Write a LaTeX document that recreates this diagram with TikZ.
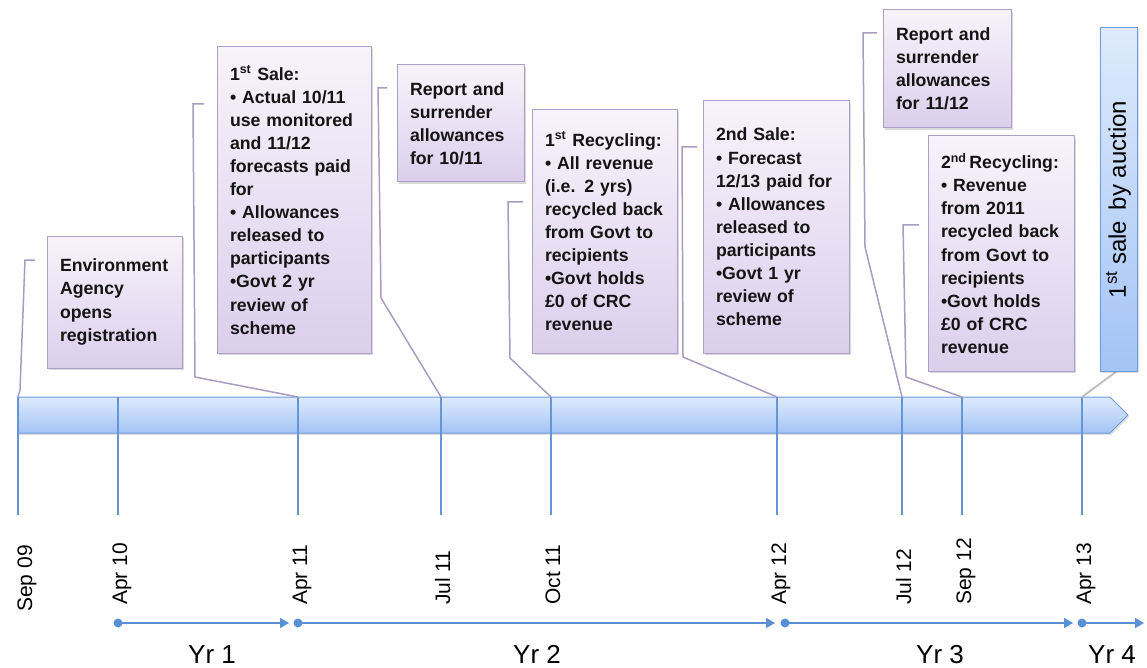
\documentclass[tikz,border=0pt]{standalone}
\usepackage{fontspec}
\setmainfont{Liberation Sans}
\usetikzlibrary{arrows.meta,shadows}
\hyphenpenalty=10000
\exhyphenpenalty=10000
\definecolor{boxtop}{RGB}{247,243,251}
\definecolor{boxbot}{RGB}{219,207,236}
\definecolor{boxborder}{RGB}{172,160,200}
\definecolor{conncol}{RGB}{168,156,192}
\definecolor{bartop}{RGB}{222,234,252}
\definecolor{barbot}{RGB}{163,196,245}
\definecolor{barborder}{RGB}{108,154,218}
\definecolor{tickcol}{RGB}{100,150,215}
\definecolor{yrcol}{RGB}{88,143,215}
\definecolor{auccon}{RGB}{192,192,192}
\begin{document}
\begin{tikzpicture}[x=1pt,y=-1pt,
  evbox/.style={draw=boxborder, line width=1pt, top color=boxtop, bottom color=boxbot,
    drop shadow={shadow xshift=1.5pt, shadow yshift=-2pt, opacity=0.3},
    inner xsep=13pt, inner ysep=0pt, align=left, text=black!92,
    font=\bfseries\fontsize{17.7pt}{23.1pt}\selectfont},
  conn/.style={draw=conncol, line width=1.5pt},
  tick/.style={draw=tickcol, line width=1.2pt},
  datelbl/.style={rotate=90, anchor=base west, inner sep=0pt, font=\fontsize{21pt}{24pt}\selectfont},
  yrlbl/.style={anchor=base, inner sep=0pt, font=\fontsize{26pt}{30pt}\selectfont},
  yrarrow/.style={draw=yrcol, line width=1.5pt, -{Triangle[length=9pt,width=10pt]}},
  yrdot/.style={circle, fill=yrcol, inner sep=0pt, minimum size=9pt}
]
\useasboundingbox (0,0) rectangle (1147,668);

% timeline bar
\path[draw=barborder, line width=1pt, top color=bartop, bottom color=barbot,
  drop shadow={shadow xshift=1pt, shadow yshift=-2pt, opacity=0.25}]
  (18,397) -- (1110,397) -- (1128,415) -- (1110,433) -- (18,433) -- cycle;

% ticks
\foreach \n/\x in {a/18,b/118,c/298,d/441,e/551,f/777,g/902,h/962,i/1082}{
  \coordinate (t\n) at (\x,397);
  \coordinate (t\n b) at (\x,515);
  \draw[tick] (t\n) -- (t\n b);
}

% date labels
\node[datelbl] (la) at (32,612) {Sep 09};
\node[datelbl] (lb) at (127,605) {Apr 10};
\node[datelbl] (lc) at (307,605) {Apr 11};
\node[datelbl] (ld) at (450,605) {Jul 11};
\node[datelbl] (le) at (560,605) {Oct 11};
\node[datelbl] (lf) at (786,605) {Apr 12};
\node[datelbl] (lg) at (911,605) {Jul 12};
\node[datelbl] (lh) at (971,605) {Sep 12};
\node[datelbl] (li) at (1091,605) {Apr 13};

% year arrows
\node[yrdot] (d1) at (118,623) {};
\node[yrdot] (d2) at (298,623) {};
\node[yrdot] (d3) at (785,623) {};
\node[yrdot] (d4) at (1082,623) {};
\coordinate (e1) at (289,623);
\coordinate (e2) at (775,623);
\coordinate (e3) at (1073,623);
\coordinate (e4) at (1144,623);
\draw[yrarrow] (d1.center) -- (e1);
\draw[yrarrow] (d2.center) -- (e2);
\draw[yrarrow] (d3.center) -- (e3);
\draw[yrarrow] (d4.center) -- (e4);
\node[yrlbl] (y1) at (212,663) {Yr 1};
\node[yrlbl] (y2) at (537,663) {Yr 2};
\node[yrlbl] (y3) at (940,663) {Yr 3};
\node[yrlbl] (y4) at (1112,663) {Yr 4};

% connectors
\coordinate (c1a) at (35,260);  \coordinate (c1b) at (25,260);  \coordinate (c1c) at (20,390);
\coordinate (c2a) at (204,104); \coordinate (c2b) at (193,104); \coordinate (c2c) at (195,377);
\coordinate (c3a) at (387,88);  \coordinate (c3b) at (378,88);  \coordinate (c3c) at (381,298);
\coordinate (c4a) at (523,202); \coordinate (c4b) at (508,202); \coordinate (c4c) at (510,358);
\coordinate (c5a) at (697,147); \coordinate (c5b) at (682,147); \coordinate (c5c) at (683,357);
\coordinate (c6a) at (877,33);  \coordinate (c6b) at (863,33);  \coordinate (c6c) at (865,247);
\coordinate (c7a) at (919,225); \coordinate (c7b) at (903,225); \coordinate (c7c) at (906,377);
\draw[conn] (c1a) -- (c1b) -- (c1c) -- (ta);
\draw[conn] (c2a) -- (c2b) -- (c2c) -- (tc);
\draw[conn] (c3a) -- (c3b) -- (c3c) -- (td);
\draw[conn] (c4a) -- (c4b) -- (c4c) -- (te);
\draw[conn] (c5a) -- (c5b) -- (c5c) -- (tf);
\draw[conn] (c6a) -- (c6b) -- (c6c) -- (tg);
\draw[conn] (c7a) -- (c7b) -- (c7c) -- (th);

% event boxes
\node[evbox, minimum width=135pt, minimum height=132pt, text width=109pt] (env) at (114.5,302)
  {Environment\\Agency\\opens\\registration};
\node[evbox, minimum width=154pt, minimum height=306pt, text width=128pt] (sale1) at (294,200)
  {1\textsuperscript{st} Sale:\\• Actual 10/11\\use monitored\\and 11/12\\forecasts paid\\for\\• Allowances\\released to\\participants\\•Govt 2 yr\\review of\\scheme};
\node[evbox, minimum width=127pt, minimum height=117pt, text width=101pt] (rep1) at (460.5,123.5)
  {Report and\\surrender\\allowances\\for 10/11};
\node[evbox, minimum width=145pt, minimum height=243pt, text width=119pt] (rec1) at (604.5,231.5)
  {1\textsuperscript{st} Recycling:\\• All revenue\\(i.e. 2 yrs)\\recycled back\\from Govt to\\recipients\\•Govt holds\\£0 of CRC\\revenue};
\node[evbox, minimum width=146pt, minimum height=252pt, text width=120pt] (sale2) at (776,227)
  {2nd Sale:\\• Forecast\\12/13 paid for\\• Allowances\\released to\\participants\\•Govt 1 yr\\review of\\scheme};
\node[evbox, minimum width=128pt, minimum height=118pt, text width=102pt] (rep2) at (947,69)
  {Report and\\surrender\\allowances\\for 11/12};
\node[evbox, minimum width=146pt, minimum height=235pt, text width=120pt] (rec2) at (1001,253.5)
  {2\textsuperscript{nd}\,Recycling:\\• Revenue\\from 2011\\recycled back\\from Govt to\\recipients\\•Govt holds\\£0 of CRC\\revenue};

% auction box
\draw[draw=auccon, line width=2pt] (ti) -- (1117,371);
\node[rotate=90, draw=barborder, line width=1pt, top color=bartop, bottom color=barbot,
  drop shadow={shadow xshift=1.5pt, shadow yshift=-2pt, opacity=0.25},
  minimum width=343pt, minimum height=37pt, inner sep=0pt,
  font=\fontsize{24pt}{28pt}\selectfont] (auc) at (1118.5,199.5)
  {1\textsuperscript{st} sale\, by auction};
\end{tikzpicture}
\end{document}
